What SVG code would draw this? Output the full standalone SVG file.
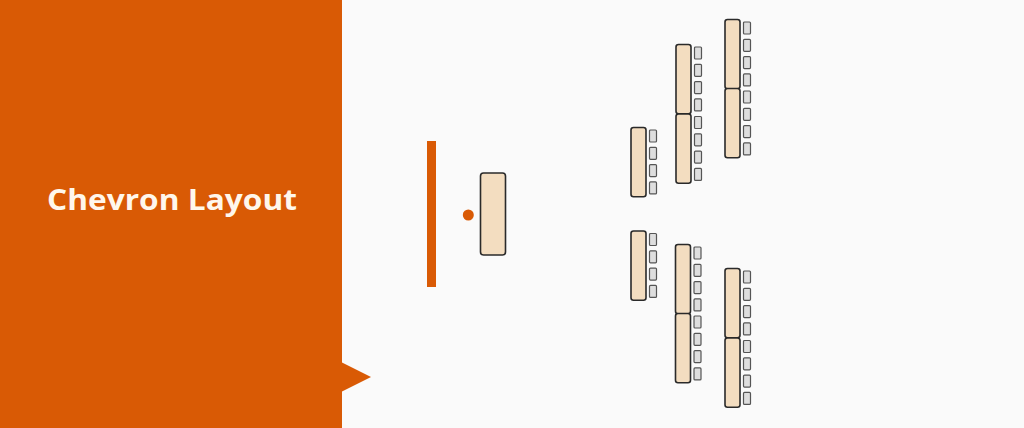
<svg xmlns="http://www.w3.org/2000/svg" width="1024" height="428" viewBox="0 0 1024 428">
<style>
.box{fill:#F3DDC0;stroke:#2a2a2a;stroke-width:1.6}
.sq{fill:#DEDEDE;stroke:#555;stroke-width:1.2}
.title{font-family:"Open Sans","Liberation Sans",sans-serif;font-weight:700;font-size:29px;fill:#FFF7EC}
</style>
<defs>
<g id="col">
<rect class="box" x="0" y="0" width="15" height="69.3" rx="2.5"/>
<rect class="sq" x="18.5" y="2.5" width="7" height="12" rx="1"/>
<rect class="sq" x="18.5" y="19.8" width="7" height="12" rx="1"/>
<rect class="sq" x="18.5" y="37.1" width="7" height="12" rx="1"/>
<rect class="sq" x="18.5" y="54.4" width="7" height="12" rx="1"/>
</g>
</defs>
<rect x="0" y="0" width="1024" height="428" fill="#FAFAFA"/>
<g id="panel">
<rect x="0" y="0" width="342" height="428" fill="#D95A05"/>
<polygon points="341,362 371,377 341,392" fill="#D95A05"/>
<text class="title" x="47" y="210" textLength="250" lengthAdjust="spacingAndGlyphs">Chevron Layout</text>
</g>
<g id="root">
<rect x="427" y="141" width="9" height="146" fill="#D95A05"/>
<circle cx="468.3" cy="215" r="5.5" fill="#D95A05"/>
<rect class="box" x="480.5" y="173" width="25" height="82" rx="3" stroke-width="2"/>
</g>
<g id="upper">
<use href="#col" x="631" y="127.5"/>
<use href="#col" x="676" y="44.5"/>
<use href="#col" x="676" y="114"/>
<use href="#col" x="725" y="19.5"/>
<use href="#col" x="725" y="88.5"/>
</g>
<g id="lower">
<use href="#col" x="631" y="231"/>
<use href="#col" x="675.5" y="244.5"/>
<use href="#col" x="675.5" y="313.5"/>
<use href="#col" x="725" y="268.5"/>
<use href="#col" x="725" y="338"/>
</g>
<g id="connectors"/>
</svg>
